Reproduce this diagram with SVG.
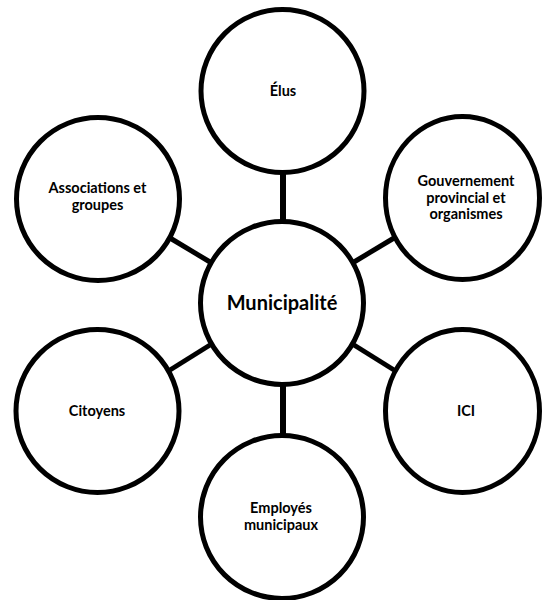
<svg xmlns="http://www.w3.org/2000/svg" width="542" height="600" viewBox="0 0 542 600">
<style>
.node{fill:#fff;stroke:#000;stroke-width:5}
.lbl{font-family:Lato,"Open Sans","Liberation Sans",sans-serif;font-weight:bold;font-size:14.5px;fill:#000;text-anchor:middle}
.big{font-size:20px}
.conn{stroke:#000;stroke-width:5;fill:none}
.v{stroke-width:6}
</style>
<rect width="542" height="600" fill="#fff"/>
<g id="connectors">
<line class="conn v" x1="283" y1="170" x2="283" y2="225"/>
<line class="conn v" x1="283" y1="382" x2="283" y2="436"/>
<line class="conn" x1="170" y1="238" x2="210" y2="262"/>
<line class="conn" x1="354" y1="262" x2="394" y2="238"/>
<line class="conn" x1="170" y1="370" x2="210" y2="345"/>
<line class="conn" x1="354" y1="345" x2="394" y2="370"/>
</g>
<g id="municipalite">
<circle class="node" cx="282" cy="303" r="81.5"/>
<text class="lbl big" x="282" y="310">Municipalité</text>
</g>
<g id="elus">
<circle class="node" cx="282.5" cy="91" r="81.5"/>
<text class="lbl" x="283" y="96">Élus</text>
</g>
<g id="gouvernement">
<ellipse class="node" cx="462.5" cy="198" rx="77" ry="81.5"/>
<text class="lbl" x="466" y="186">Gouvernement</text>
<text class="lbl" x="466" y="202.7">provincial et</text>
<text class="lbl" x="466" y="219.4">organismes</text>
</g>
<g id="ici">
<ellipse class="node" cx="462.5" cy="411" rx="77" ry="81.5"/>
<text class="lbl" x="466" y="416">ICI</text>
</g>
<g id="employes">
<circle class="node" cx="282" cy="517" r="81.5"/>
<text class="lbl" x="281" y="513">Employés</text>
<text class="lbl" x="281" y="530">municipaux</text>
</g>
<g id="citoyens">
<circle class="node" cx="97.5" cy="411" r="81.5"/>
<text class="lbl" x="97" y="416">Citoyens</text>
</g>
<g id="associations">
<circle class="node" cx="98" cy="199" r="81.5"/>
<text class="lbl" x="97.5" y="193">Associations et</text>
<text class="lbl" x="97.5" y="210">groupes</text>
</g>
</svg>
